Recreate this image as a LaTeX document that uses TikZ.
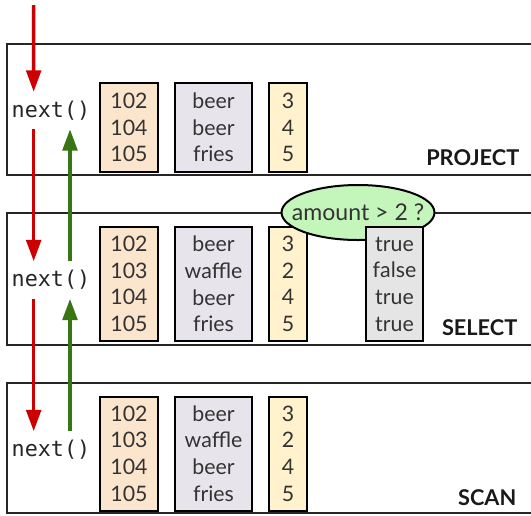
\documentclass[tikz,border=0pt]{standalone}
\usepackage{fontspec}
\setmainfont{Lato}
\setmonofont{DejaVu Sans Mono}
\usetikzlibrary{arrows.meta,shapes.geometric}
\definecolor{callred}{RGB}{204,0,0}
\definecolor{retgreen}{RGB}{56,118,20}
\definecolor{idfill}{RGB}{252,229,205}
\definecolor{namefill}{RGB}{232,228,236}
\definecolor{amtfill}{RGB}{255,242,204}
\definecolor{boolfill}{RGB}{229,229,229}
\definecolor{predfill}{RGB}{196,246,188}
\tikzset{>=stealth,
  opbox/.style={draw=black!85,line width=1.6pt},
  col/.style={draw=black,line width=1.5pt,align=center,inner sep=0pt,
    text=black!80,font=\fontsize{16}{20}\selectfont},
  idcol/.style={col,fill=idfill,minimum width=43.5pt},
  namecol/.style={col,fill=namefill,minimum width=57.75pt},
  amtcol/.style={col,fill=amtfill,minimum width=28.5pt},
  boolcol/.style={col,fill=boolfill,minimum width=42.75pt},
  callnode/.style={font=\ttfamily\fontsize{16.3}{20}\selectfont,text=black!85,
    minimum height=27.75pt,inner sep=0pt},
  call/.style={callred,line width=2.6pt,-{Triangle[width=11pt,length=16pt]}},
  ret/.style={retgreen,line width=2.6pt,-{Triangle[width=11pt,length=16pt]}},
  oplabel/.style={anchor=base east,font=\bfseries\fontsize{16.3}{20}\selectfont,text=black!90}
}
\begin{document}
\begin{tikzpicture}[x=0.75pt,y=-0.75pt]
\clip (0,0) rectangle (531,515);
\fill[white] (0,0) rectangle (531,515);

\draw[opbox] (7,44) rectangle (560,175);
\draw[opbox] (7,213) rectangle (560,345);
\draw[opbox] (7,383) rectangle (560,513);
\node[oplabel] (lproject) at (524,165) {PROJECT};
\node[oplabel] (lselect) at (522,335) {SELECT};
\node[oplabel] (lscan) at (521,505) {SCAN};

\node[callnode] (nx1) at (51,110.5) {next()};
\node[callnode] (nx2) at (51,280) {next()};
\node[callnode] (nx3) at (51,450) {next()};
\coordinate (top) at (33.7,5);

\node[idcol,minimum height=66.4pt] (id1) at (129,127.5) {102\\104\\105};
\node[namecol,minimum height=66.4pt] (name1) at (213.5,127.5) {beer\\beer\\fries};
\node[amtcol,minimum height=66.4pt] (amt1) at (288,127.5) {3\\4\\5};

\node[idcol,minimum height=85.5pt] (id2) at (129,284) {102\\103\\104\\105};
\node[namecol,minimum height=85.5pt] (name2) at (213.5,284) {beer\\waffle\\beer\\fries};
\node[amtcol,minimum height=85.5pt] (amt2) at (288,284) {3\\2\\4\\5};

\node[ellipse,draw=black,line width=1.5pt,fill=predfill,inner xsep=-9pt,inner ysep=0pt,
  minimum width=113.25pt,minimum height=41.25pt,text=black!80,
  font=\fontsize{17.3}{20}\selectfont] (pred) at (358,212.5) {amount > 2 ?};
\node[boolcol,minimum height=85.5pt] (bool2) at (394.5,284) {true\\false\\true\\true};

\node[idcol,minimum height=85.5pt] (id3) at (129,453.5) {102\\103\\104\\105};
\node[namecol,minimum height=85.5pt] (name3) at (213.5,453.5) {beer\\waffle\\beer\\fries};
\node[amtcol,minimum height=85.5pt] (amt3) at (288,453.5) {3\\2\\4\\5};

\draw[call] (top) -- ([xshift=-13pt]nx1.north);
\draw[call] ([xshift=-13pt]nx1.south) -- ([xshift=-13pt]nx2.north);
\draw[call] ([xshift=-13pt]nx2.south) -- ([xshift=-13pt]nx3.north);
\draw[ret] ([xshift=14.25pt]nx3.north) -- ([xshift=14.25pt]nx2.south);
\draw[ret] ([xshift=14.25pt]nx2.north) -- ([xshift=14.25pt]nx1.south);
\end{tikzpicture}
\end{document}
